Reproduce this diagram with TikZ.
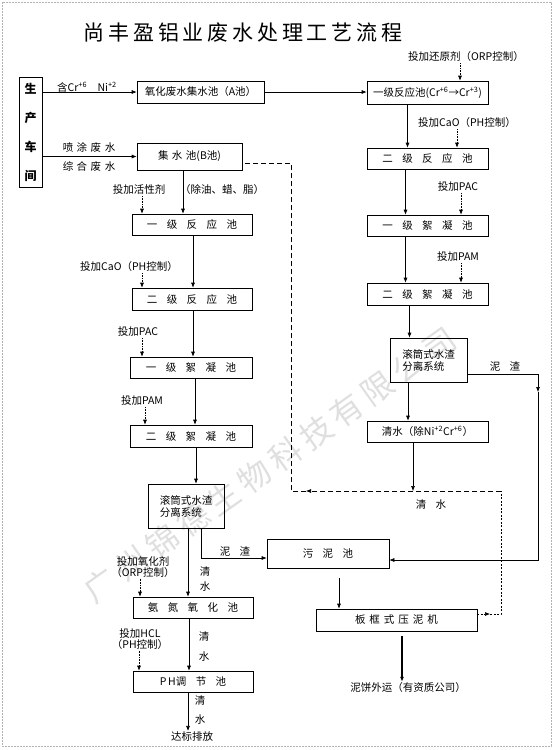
\documentclass[tikz,border=0pt]{standalone}
\usepackage{fontspec}
\setmainfont{Noto Sans CJK SC}
\newfontfamily\titlefont[LetterSpace=18]{Noto Sans CJK SC}
\usetikzlibrary{arrows.meta, positioning, calc}
\newcommand{\wsp}{\hspace{0.9em}}
\newcommand{\nsp}{\hspace{3.5pt}}

\begin{document}
\begin{tikzpicture}[x=1pt, y=-1pt,
    every node/.style={font=\fontsize{10.5}{12}\selectfont, inner sep=1pt},
    pool/.style={draw, line width=0.6pt, inner sep=0pt, align=center},
    lbl/.style={align=center},
    flow/.style={line width=0.6pt, -{Latex[length=5pt,width=4pt]}},
    dose/.style={line width=0.6pt, densely dotted, -{Latex[length=5pt,width=4pt]}},
    back/.style={line width=0.6pt, dash pattern=on 5pt off 3pt},
    fineback/.style={line width=0.6pt, dash pattern=on 2pt off 1.5pt}]
    \useasboundingbox (0,0) rectangle (555,750);
    \draw[gray!60, line width=0.5pt, dash pattern=on 2pt off 1pt] (2,2) rectangle (551,746);
    \node[rotate=35.5, text=gray!25, font=\fontsize{32}{32}\titlefont] (mark) at (270,465) {广州锦德生物科技有限公司};

    \node[font=\fontsize{21}{24}\titlefont] (title) at (243,33) {尚丰盈铝业废水处理工艺流程};

    % source and first pools
    \node[pool, minimum width=23, minimum height=110, font=\fontsize{12}{29}\selectfont\bfseries] (shop) at (30.5,132) {生\\产\\车\\间};
    \node[pool, minimum width=127, minimum height=22] (apool) at (200.5,92) {氧化废水集水池（A池）};
    \node[pool, minimum width=105, minimum height=27] (bpool) at (189.5,156.5) {集\nsp 水\nsp 池(B池)};
    \node[lbl] (cr) at (87,87) {含Cr\textsuperscript{+6}\quad Ni\textsuperscript{+2}};
    \node[lbl] (spray) at (89,147) {喷\nsp 涂\nsp 废\nsp 水};
    \node[lbl] (mixed) at (89,167) {综\nsp 合\nsp 废\nsp 水};

    % chromium / nickel line
    \node[pool, minimum width=121, minimum height=23] (r1) at (427.5,92.5) {一级反应池(Cr\textsuperscript{+6}→Cr\textsuperscript{+3})};
    \node[pool, minimum width=121, minimum height=21] (r2) at (427.5,158.5) {二\wsp 级\wsp 反\wsp 应\wsp 池};
    \node[pool, minimum width=121, minimum height=21] (f1) at (427.5,225.5) {一\wsp 级\wsp 絮\wsp 凝\wsp 池};
    \node[pool, minimum width=121, minimum height=22] (f2) at (427.5,294) {二\wsp 级\wsp 絮\wsp 凝\wsp 池};
    \node[pool, minimum width=77, minimum height=44, align=left] (sep) at (428.5,360) {滚筒式水渣\\分离系统};
    \node[pool, minimum width=121, minimum height=21] (clean) at (427.5,431.5) {清水（除Ni\textsuperscript{+2}Cr\textsuperscript{+6}）};
    \node[lbl] (dred) at (466,57) {投加还原剂（ORP控制）};
    \node[lbl] (dcao) at (467,123) {投加CaO（PH控制）};
    \node[lbl] (dpac) at (458,187) {投加PAC};
    \node[lbl] (dpam) at (458,257) {投加PAM};
    \node[lbl] (slr) at (505,367) {泥\wsp 渣};
    \node[lbl] (cw) at (431,505) {清\wsp 水};

    % spraying / mixed line
    \node[pool, minimum width=120, minimum height=21] (lr1) at (192,224.5) {一\wsp 级\wsp 反\wsp 应\wsp 池};
    \node[pool, minimum width=120, minimum height=22] (lr2) at (192,299) {二\wsp 级\wsp 反\wsp 应\wsp 池};
    \node[pool, minimum width=122, minimum height=21] (lf1) at (191,367.5) {一\wsp 级\wsp 絮\wsp 凝\wsp 池};
    \node[pool, minimum width=122, minimum height=22] (lf2) at (191,436) {二\wsp 级\wsp 絮\wsp 凝\wsp 池};
    \node[pool, minimum width=76, minimum height=44, align=left] (lsep) at (186,506) {滚筒式水渣\\分离系统};
    \node[pool, minimum width=120, minimum height=21] (nox) at (193,607.5) {氨\wsp 氮\wsp 氧\wsp 化\wsp 池};
    \node[pool, minimum width=120, minimum height=21] (ph) at (193,681.5) {P\,H调\wsp 节\wsp 池};
    \node[lbl] (lsurf) at (139,190) {投加活性剂};
    \node[lbl] (oil) at (222,190) {（除油、蜡、脂）};
    \node[lbl] (lcao) at (129,267) {投加CaO（PH控制）};
    \node[lbl] (lpac) at (138,332) {投加PAC};
    \node[lbl] (lpam) at (142,401) {投加PAM};
    \node[lbl] (sll) at (235,552) {泥\wsp 渣};
    \node[lbl, font=\fontsize{10.5}{11}\selectfont] (dox) at (143,567) {投加氧化剂\\（ORP控制）};
    \node[lbl, font=\fontsize{10.5}{11}\selectfont] (dhcl) at (140,639) {投加HCL\\（PH控制）};
    \node[lbl, font=\fontsize{10.5}{15}\selectfont] (cw1) at (205,579) {清\\水};
    \node[lbl, font=\fontsize{10.5}{20}\selectfont] (cw2) at (204,647) {清\\水};
    \node[lbl, font=\fontsize{10.5}{19}\selectfont] (cw3) at (200,710) {清\\水};
    \node[lbl] (out) at (192,737) {达标排放};

    % sludge
    \node[pool, minimum width=122, minimum height=29] (sludge) at (328,553.5) {污\wsp 泥\wsp 池};
    \node[pool, minimum width=161, minimum height=22] (press) at (396.5,620) {板\hspace{4pt}框\hspace{4pt}式\hspace{4pt}压\hspace{4pt}泥\hspace{4pt}机};
    \node[lbl] (cake) at (408,688) {泥饼外运（有资质公司）};

    \coordinate (sr) at (538,392);
    \coordinate (pc) at (501,491);
    \coordinate (pa) at (490,614);
    \coordinate (la) at (306,491);
    \coordinate (lc) at (291,163);

    \draw[flow] (shop.east |- apool.west) -- (apool.west);
    \draw[flow] (shop.east |- bpool.west) -- (bpool.west);
    \draw[flow] (apool.east) -- (apool.east -| r1.west);

    \draw[dose] ([xshift=-6pt]dred.south) -- ([xshift=-6pt]dred.south |- r1.north);
    \draw[flow] ([xshift=-20pt]r1.south) -- ([xshift=-20pt]r1.south |- r2.north);
    \draw[dose] ([xshift=-10pt]dcao.south) -- ([xshift=-10pt]dcao.south |- r2.north);
    \draw[flow] ([xshift=-22pt]r2.south) -- ([xshift=-22pt]r2.south |- f1.north);
    \draw[dose] ([xshift=3pt]dpac.south) -- ([xshift=3pt]dpac.south |- f1.north);
    \draw[flow] ([xshift=-22pt]f1.south) -- ([xshift=-22pt]f1.south |- f2.north);
    \draw[dose] ([xshift=3pt]dpam.south) -- ([xshift=3pt]dpam.south |- f2.north);
    \draw[flow] ([xshift=-18pt]f2.south) -- ([xshift=-18pt]f2.south |- sep.north);
    \draw[flow] ([xshift=-20.5pt]sep.south) -- ([xshift=-20.5pt]sep.south |- clean.north);
    \draw[flow] ([yshift=-14pt]sep.east) -| (sr);
    \draw[flow] (sr) |- ([yshift=-6.5pt]sludge.east);
    \draw[flow] ([xshift=-14.5pt]clean.south) -- ([xshift=-14.5pt]clean.south |- pc);

    \draw[fineback, -{Latex[length=5pt,width=4pt]}] ([yshift=6pt]press.east) -- (pa);
    \draw[fineback] (pa) -| (pc);
    \draw[back, -{Latex[length=5pt,width=4pt]}] (pc) -- (la);
    \draw[back] (la) -| (lc) -- (lc -| bpool.east);

    \draw[flow] ([xshift=-6.5pt]bpool.south) -- ([xshift=-6.5pt]bpool.south |- lr1.north);
    \draw[dose] ([xshift=3pt]lsurf.south) -- ([xshift=3pt]lsurf.south |- lr1.north);
    \draw[flow] ([xshift=1pt]lr1.south) -- ([xshift=1pt]lr1.south |- lr2.north);
    \draw[dose] ([xshift=13pt]lcao.south) -- ([xshift=13pt]lcao.south |- lr2.north);
    \draw[flow] ([xshift=1pt]lr2.south) -- ([xshift=1pt]lr2.south |- lf1.north);
    \draw[dose] ([xshift=4pt]lpac.south) -- ([xshift=4pt]lpac.south |- lf1.north);
    \draw[flow] ([xshift=4pt]lf1.south) -- ([xshift=4pt]lf1.south |- lf2.north);
    \draw[dose] ([xshift=3pt]lpam.south) -- ([xshift=3pt]lpam.south |- lf2.north);
    \draw[flow] ([xshift=5pt]lf2.south) -- ([xshift=5pt]lf2.south |- lsep.north);
    \draw[flow] ([xshift=2pt]lsep.south) -- ([xshift=2pt]lsep.south |- nox.north);
    \draw[flow] ([xshift=15pt]lsep.south) |- ([yshift=-4.5pt]sludge.west);
    \draw[dose] ([xshift=-3pt]dox.south) -- ([xshift=-3pt]dox.south |- nox.north);
    \draw[flow] ([xshift=-4pt]nox.south) -- ([xshift=-4pt]nox.south |- ph.north);
    \draw[dose] ([xshift=-1pt]dhcl.south) -- ([xshift=-1pt]dhcl.south |- ph.north);
    \draw[flow] ([xshift=-5pt]ph.south) -- ([xshift=-5pt]ph.south |- out.north);

    \draw[flow] ([xshift=11pt,yshift=-10pt]sludge.south) -- ([xshift=11pt]sludge.south |- press.north);
    \draw[flow, line width=1.4pt] ([xshift=5.5pt,yshift=-5pt]press.south) -- ([xshift=5.5pt]press.south |- cake.north);
\end{tikzpicture}
\end{document}
